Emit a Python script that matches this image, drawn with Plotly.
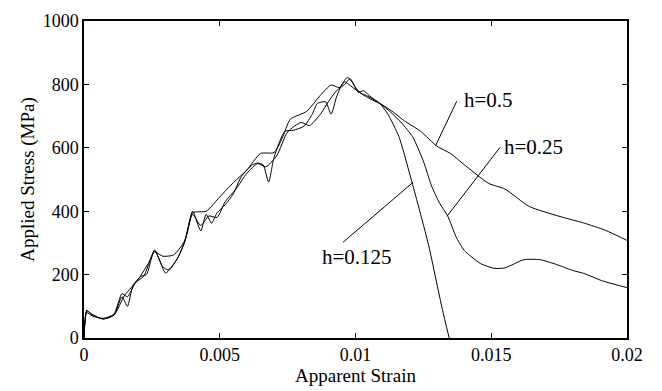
import plotly.graph_objects as go

# ---- data ----
x_h05 = [0, 0.0001, 0.0003, 0.0007, 0.0011, 0.0015, 0.002, 0.0024, 0.0026, 0.0029, 0.0033,
         0.0037, 0.004, 0.0045, 0.005, 0.0055, 0.006, 0.0065, 0.007, 0.0073, 0.0076, 0.0082,
         0.0087, 0.0091, 0.0094, 0.0096, 0.0099, 0.0103, 0.0106, 0.011, 0.0114, 0.0118,
         0.0124, 0.013, 0.0135, 0.0141, 0.0149, 0.0155, 0.0164, 0.0175, 0.0184, 0.0192, 0.02]
y_h05 = [0, 85, 75, 60, 72, 135, 185, 240, 272, 258, 262,
         305, 395, 400, 445, 490, 530, 582, 585, 630, 690, 715,
         765, 798, 790, 808, 790, 766, 752, 735, 712, 685,
         652, 605, 582, 540, 488, 470, 415, 384, 363, 340, 308]

x_h025 = [0, 0.0001, 0.0003, 0.0007, 0.0011, 0.0014, 0.0016, 0.0019, 0.0022, 0.0026, 0.0029,
          0.0031, 0.0034, 0.0037, 0.004, 0.0043, 0.0046, 0.0049, 0.0052, 0.0056, 0.006,
          0.0064, 0.0067, 0.0071, 0.0075, 0.008, 0.0083, 0.0087, 0.009, 0.0093, 0.0096,
          0.0098, 0.01, 0.0102, 0.0104, 0.0109, 0.0113, 0.0117, 0.0121, 0.0125, 0.0128,
          0.0131, 0.0134, 0.0137, 0.014, 0.0146, 0.0151, 0.0155, 0.0162, 0.0168, 0.0174,
          0.018, 0.0184, 0.0191, 0.02]
y_h025 = [0, 80, 70, 62, 75, 140, 130, 175, 195, 275, 225,
          215, 245, 300, 390, 355, 385, 380, 430, 470, 520,
          550, 540, 575, 650, 680, 670, 705, 745, 780, 800,
          818, 790, 772, 765, 740, 712, 678, 635, 558, 480,
          425, 384, 320, 277, 235, 220, 221, 247, 247, 232,
          213, 204, 180, 159]

x_h0125 = [0, 0.0001, 0.0003, 0.0007, 0.0011, 0.0014, 0.0016, 0.0018, 0.0021, 0.0023, 0.0026,
           0.003, 0.0032, 0.0035, 0.0038, 0.004, 0.0043, 0.0045, 0.0047, 0.0049, 0.0052,
           0.0055, 0.0058, 0.0062, 0.0064, 0.0066, 0.0068, 0.007, 0.0074, 0.0077, 0.0081,
           0.0084, 0.0086, 0.0089, 0.0091, 0.0093, 0.0095, 0.0097, 0.0099, 0.0101, 0.0103,
           0.0105, 0.0109, 0.0112, 0.0116, 0.0121, 0.0124, 0.0127, 0.013, 0.0132, 0.01345]
y_h0125 = [0, 88, 72, 60, 72, 130, 100, 165, 195, 200, 278,
           205, 220, 260, 330, 400, 338, 390, 362, 395, 420,
           455, 510, 546, 552, 546, 492, 570, 652, 655, 668,
           705, 740, 745, 706, 760, 800, 822, 805, 775, 780,
           765, 739, 705, 635, 485, 390, 290, 170, 90, 0]

x_ticks = [0, 0.005, 0.01, 0.015, 0.02]
x_ticktext = ["0", "0.005", "0.01", "0.015", "0.02"]
y_ticks = [0, 200, 400, 600, 800, 1000]

FONT = "Liberation Serif"

fig = go.Figure()
for xs, ys, name in [(x_h05, y_h05, "h=0.5"), (x_h025, y_h025, "h=0.25"), (x_h0125, y_h0125, "h=0.125")]:
    fig.add_trace(go.Scatter(x=xs, y=ys, mode="lines", name=name,
                             line=dict(color="black", width=1, shape="spline", smoothing=0.6),
                             showlegend=False, hoverinfo="skip"))

# label leader lines
leaders = [
    ((0.01295, 607), (0.01373, 747)),
    ((0.01337, 384), (0.01532, 601)),
    ((0.01212, 491), (0.00954, 302)),
]
for (x0, y0), (x1, y1) in leaders:
    fig.add_shape(type="line", x0=x0, y0=y0, x1=x1, y1=y1, xref="x", yref="y",
                  line=dict(color="black", width=1))

labels = [
    ("h=0.5", 0.01393, 750, "left"),
    ("h=0.25", 0.01540, 601, "left"),
    ("h=0.125", 0.01005, 256, "center"),
]
for txt, x, y, anc in labels:
    fig.add_annotation(x=x, y=y, xref="x", yref="y", text=txt, showarrow=False,
                       xanchor=anc, yanchor="middle",
                       font=dict(family=FONT, size=21, color="black"))

axis_common = dict(showline=True, linecolor="black", linewidth=1.5, mirror="ticks",
                   ticks="inside", ticklen=5, tickcolor="black", tickwidth=1,
                   showgrid=False, zeroline=False,
                   tickfont=dict(family=FONT, size=18, color="black"))

fig.update_xaxes(range=[0, 0.02], tickvals=x_ticks, ticktext=x_ticktext,
                 title=dict(text="Apparent Strain", font=dict(family=FONT, size=19, color="black"),
                            standoff=1),
                 **axis_common)
fig.update_yaxes(range=[0, 1000], tickvals=y_ticks,
                 title=dict(text="Applied Stress (MPa)", font=dict(family=FONT, size=19, color="black"),
                            standoff=3),
                 **axis_common)

fig.update_layout(width=662, height=391, margin=dict(l=84, r=35, t=11, b=52),
                  plot_bgcolor="white", paper_bgcolor="white")

fig.write_html("out.html")
